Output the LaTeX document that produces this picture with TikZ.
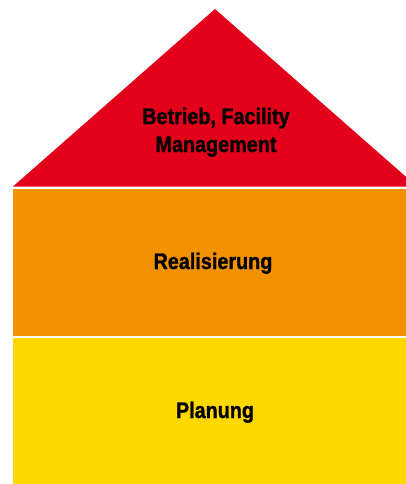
\documentclass[tikz,border=0pt]{standalone}
\usepackage{fontspec}
\setmainfont{Liberation Sans}[FakeStretch=0.88,BoldFeatures={FakeBold=1.2}]
\definecolor{dach}{RGB}{226,0,26}
\definecolor{mitte}{RGB}{242,146,0}
\definecolor{sockel}{RGB}{255,216,0}

\begin{document}
\begin{tikzpicture}[x=1pt,y=-1pt]
        \tikzstyle{every node}=[font=\bfseries\fontsize{22.5}{28}\selectfont,text=black]
        \useasboundingbox (0,0) rectangle (406,484);
        \begin{scope}
        \clip (0,0) rectangle (406,484);
           % Dach
           \fill[dach] (13,186.5) -- (215,9) -- (417,186.5) -- cycle;
           \node[align=center,anchor=base] (betrieb) at (216,152) {Betrieb, Facility\\Management};

           % Realisierung
           \fill[mitte] (13,188.5) rectangle (406,336.3);
           \node[anchor=base] (real) at (213,269) {Realisierung};

           % Planung
           \fill[sockel] (13,337.7) rectangle (406,484);
           \node[anchor=base] (plan) at (215,418) {Planung};
     \end{scope}
  \end{tikzpicture}
\end{document}
